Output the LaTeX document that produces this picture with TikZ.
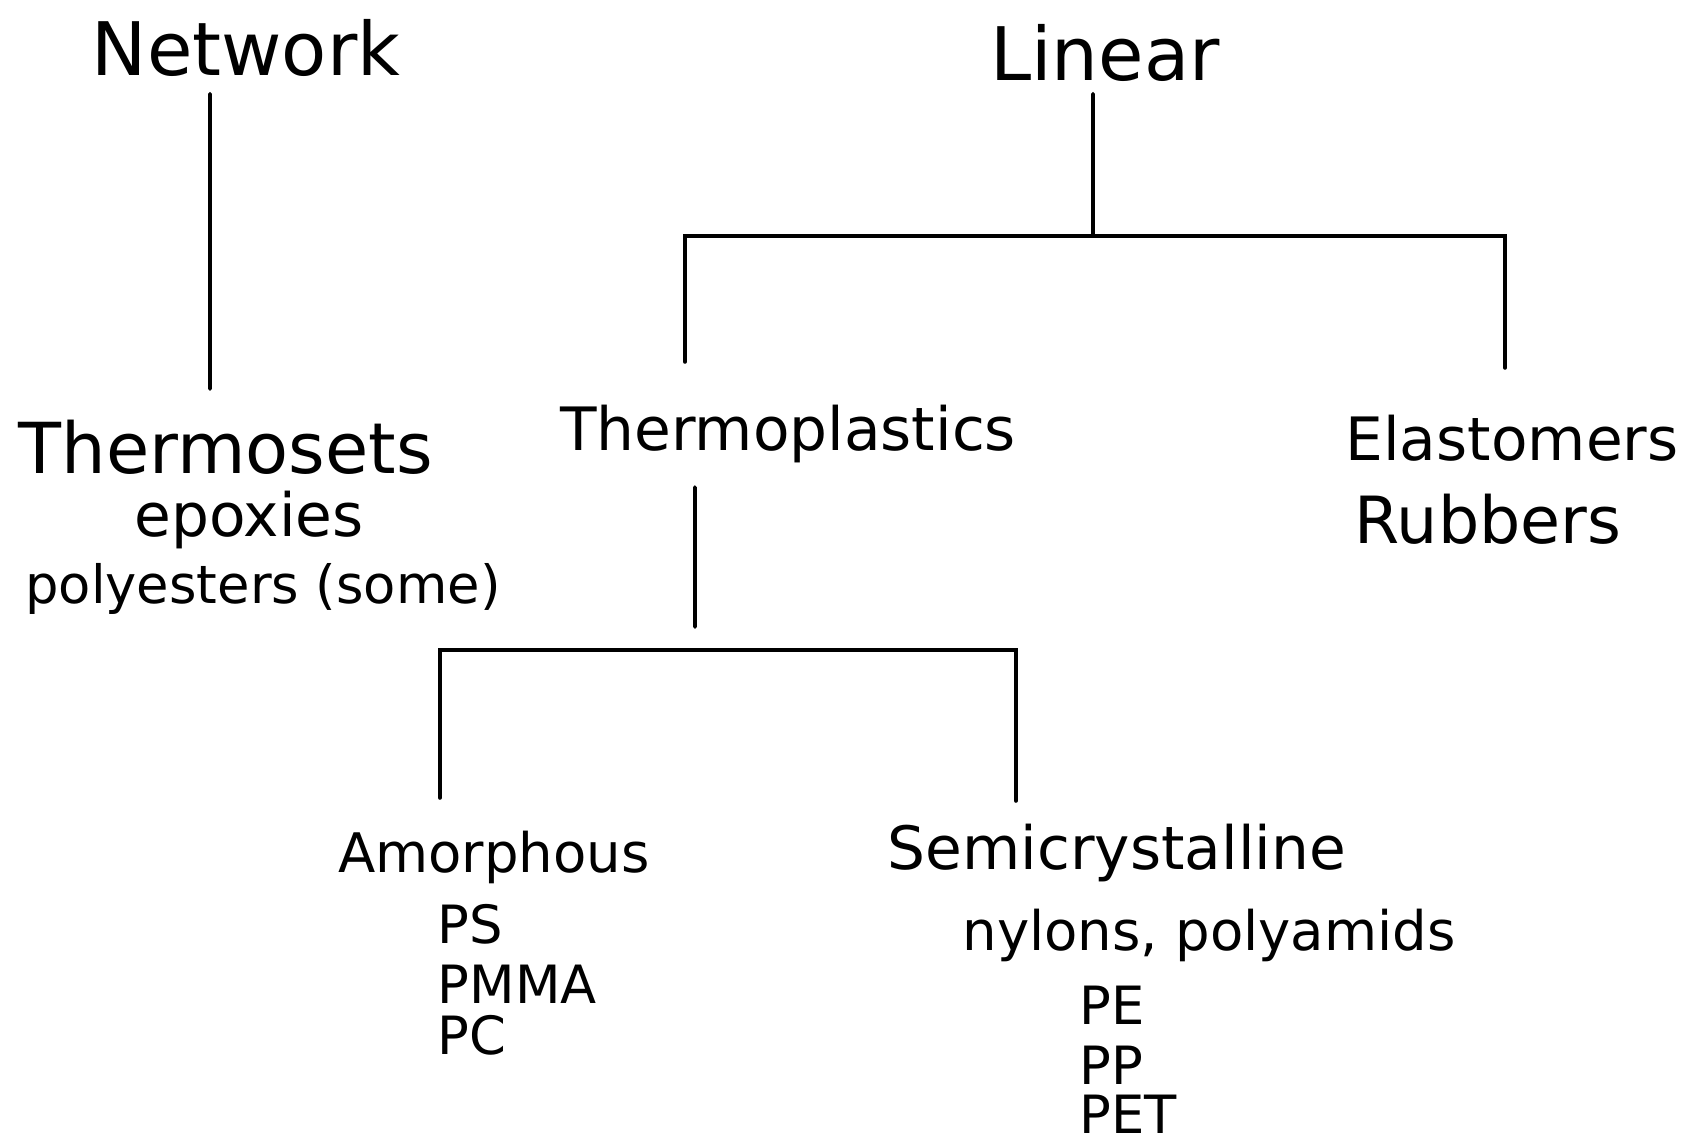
\documentclass[tikz,border=0pt]{standalone}
\usepackage{fontspec}
\setmainfont{DejaVu Sans}
\usepackage{tikz}

\begin{document}
\begin{tikzpicture}[x=0.01cm, y=-0.01cm,
  hd/.style={font=\fontsize{21}{24}\selectfont, inner sep=0pt, anchor=base},
  cl/.style={font=\fontsize{17}{20}\selectfont, inner sep=0pt, anchor=base},
  ex/.style={font=\fontsize{15.5}{18}\selectfont, inner sep=0pt, anchor=base},
  ab/.style={font=\fontsize{15}{17}\selectfont, inner sep=0pt, anchor=base west},
  ln/.style={line width=1.1pt, black, line cap=round}]
\useasboundingbox (0,0) rectangle (1700,1143);

\node[hd] (net) at (246,76) {Network};
\node[hd] (lin) at (1105,81) {Linear};

\node[font=\fontsize{20}{24}\selectfont, inner sep=0pt, anchor=base] (tset) at (226,474) {Thermosets};
\node[cl] (epox) at (249,537) {epoxies};
\node[font=\fontsize{15}{18}\selectfont, inner sep=0pt, anchor=base] (polyes) at (263,603) {polyesters (some)};

\node[cl] (tplast) at (788,450) {Thermoplastics};
\node[cl] (elas) at (1512,460) {Elastomers};
\node[font=\fontsize{18.5}{22}\selectfont, inner sep=0pt, anchor=base] (rub) at (1488,543) {Rubbers};

\node[ex] (amor) at (494,872) {Amorphous};
\node[ab] (ps) at (437,943) {PS};
\node[ab] (pmma) at (437,1003) {PMMA};
\node[ab] (pc) at (437,1054) {PC};

\node[cl] (semi) at (1117,869) {Semicrystalline};
\node[ex] (nyl) at (1209,950) {nylons, polyamids};
\node[ab] (pe) at (1079,1024) {PE};
\node[ab] (pp) at (1079,1084) {PP};
\node[ab] (pet) at (1079,1133) {PET};

\coordinate (linbar) at (1093,236);
\coordinate (tpbar) at (695,650);

\draw[ln] ([xshift=-3.6mm,yshift=-1.6mm]net.south) -- ([xshift=-1.6mm,yshift=3.1mm]tset.north);
\draw[ln] ([xshift=-1.2mm,yshift=-1.1mm]lin.south) -- (linbar);
\draw[ln] ([xshift=-10.3mm,yshift=4.2mm]tplast.north) |- (linbar) -| ([xshift=-0.7mm,yshift=4.6mm]elas.north);
\draw[ln] ([xshift=-9.3mm,yshift=-2.4mm]tplast.south) -- ([yshift=2.3mm]tpbar);
\draw[ln] ([xshift=-5.4mm,yshift=3.2mm]amor.north) |- (tpbar) -| ([xshift=-10.1mm,yshift=2.2mm]semi.north);
\end{tikzpicture}
\end{document}
